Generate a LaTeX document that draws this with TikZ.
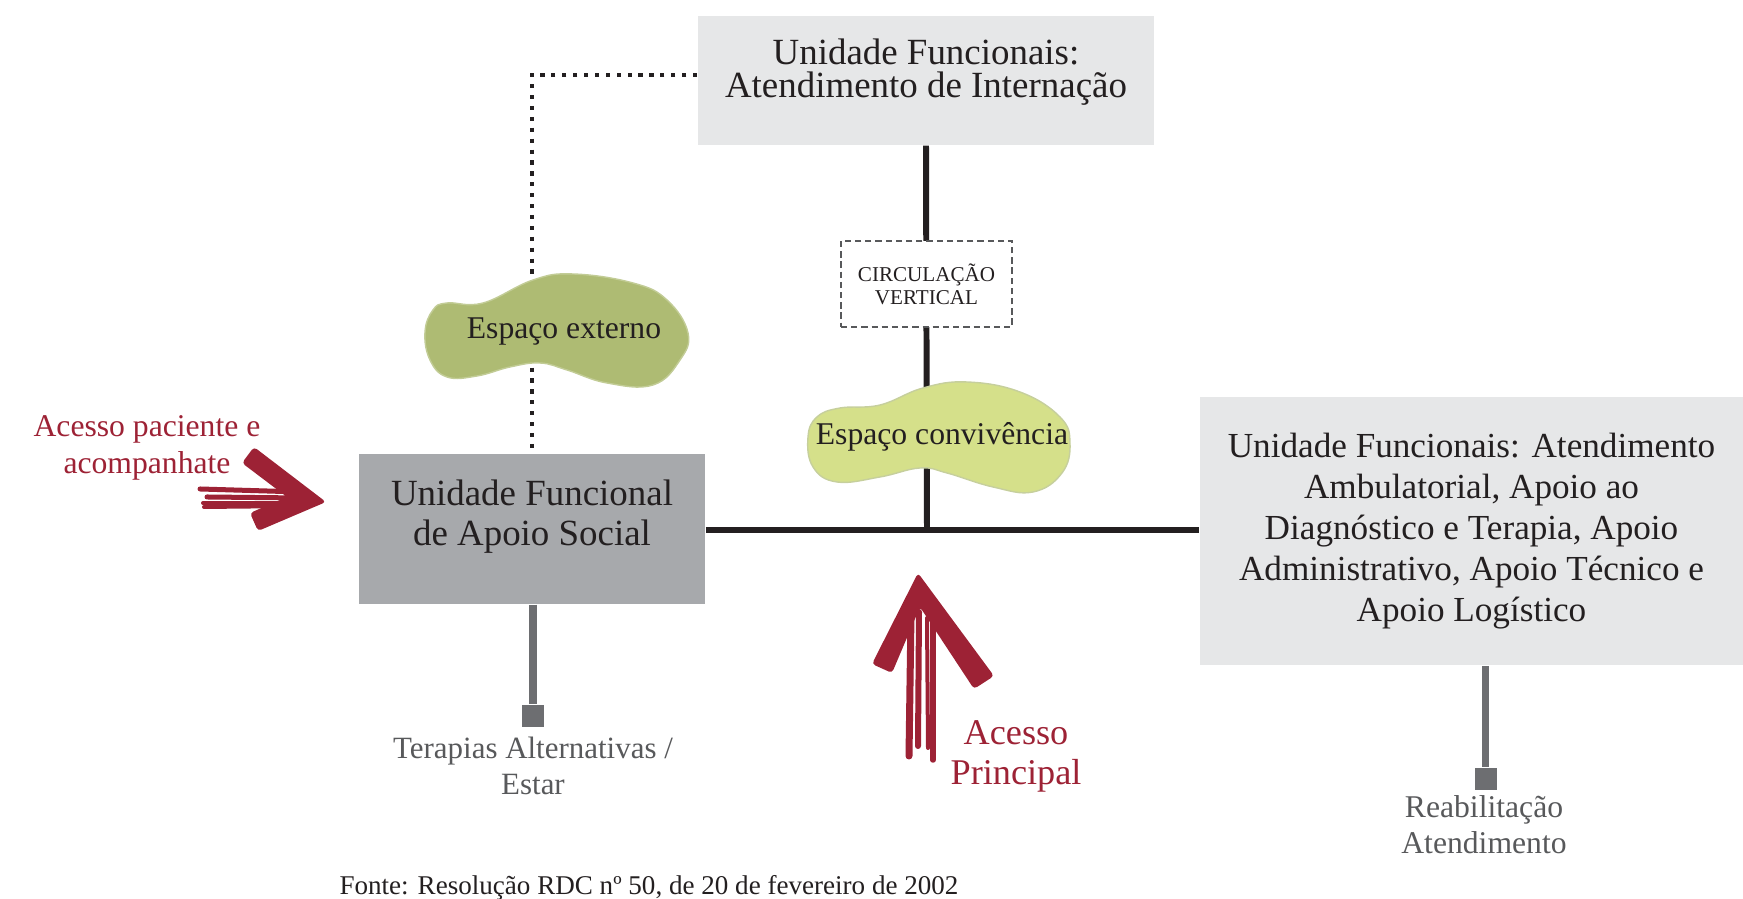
\documentclass[tikz,border=0pt]{standalone}
\usepackage{fontspec}
\setmainfont{Liberation Serif}
\definecolor{ink}{HTML}{231F20}
\definecolor{boxlight}{HTML}{E6E7E8}
\definecolor{boxmid}{HTML}{A7A9AC}
\definecolor{stemgray}{HTML}{6D6E71}
\definecolor{textgray}{HTML}{58595B}
\definecolor{accred}{HTML}{9D2235}
\definecolor{olive}{HTML}{AEBB73}
\definecolor{pale}{HTML}{D5E08A}
\begin{document}
\begin{tikzpicture}[
    unitbox/.style={fill=#1, align=center, inner sep=0pt, text=ink},
    circbox/.style={draw=textgray, dash pattern=on 1.8pt off 1.1pt, line width=0.8pt,
      fill=white, align=center, inner sep=0pt, minimum width=1.71cm, minimum height=0.86cm,
      font=\fontsize{6}{6.5}\selectfont, text=ink},
    blobtext/.style={font=\fontsize{9}{10}\selectfont, text=ink, inner sep=1pt},
    trunk/.style={ink, line width=1.7pt},
    dotline/.style={ink, line width=1.2pt, dash pattern=on 1.2pt off 1.9pt},
    stem/.style={stemgray, line width=2pt},
    endsq/.style={fill=stemgray, minimum size=0.22cm, inner sep=0pt},
    endlabel/.style={align=center, inner sep=0pt, text=textgray},
    acclabel/.style={align=center, inner sep=0pt, text=accred},
    accstroke/.style={accred, line cap=round},
  ]
    \def\x{0.01}
    \def\y{-0.01}
    \useasboundingbox (0,0) rectangle (1743*\x, 899*\y);

    % main units
    \node[unitbox=boxlight, minimum width=4.56cm, minimum height=1.29cm, text depth=0.245cm,
      font=\fontsize{10.5}{9.4}\selectfont] (intern) at (926*\x, 80.5*\y)
      {Unidade Funcionais:\\Atendimento de Internação};
    \node[unitbox=boxmid, minimum width=3.46cm, minimum height=1.50cm, text depth=0.33cm,
      font=\fontsize{10.5}{11.4}\selectfont] (social) at (532*\x, 529*\y)
      {Unidade Funcional\\de Apoio Social};
    \node[unitbox=boxlight, minimum width=5.43cm, minimum height=2.68cm,
      font=\fontsize{10}{11.7}\selectfont] (ambul) at (1471.5*\x, 531*\y)
      {Unidade Funcionais: Atendimento\\Ambulatorial, Apoio ao\\Diagnóstico e Terapia, Apoio\\Administrativo, Apoio Técnico e\\Apoio Logístico};

    % circulation
    \coordinate (junc) at (927*\x, 530*\y);
    \draw[trunk] (intern.south) -- (junc);
    \draw[trunk] (social.east |- junc) -- (ambul.west |- junc);
    \draw[dotline] ([yshift=1.6pt]intern.west) -| (social.north);

    % green spaces
    \fill[olive, draw=olive!75!white, line width=0.4pt] plot[smooth cycle, tension=0.7] coordinates {
      (425*\x,332*\y) (433*\x,310*\y) (447*\x,303*\y) (483*\x,303*\y) (533*\x,280*\y)
      (573*\x,274*\y) (633*\x,283*\y) (667*\x,300*\y) (688*\x,333*\y) (680*\x,360*\y)
      (653*\x,385*\y) (607*\x,383*\y) (567*\x,370*\y) (540*\x,363*\y) (510*\x,367*\y)
      (477*\x,376*\y) (447*\x,377*\y) (430*\x,360*\y)};
    \node[blobtext] (extern) at (564*\x, 332*\y) {Espaço externo};
    \fill[pale, draw=olive!70!white, line width=0.4pt] plot[smooth cycle, tension=0.7] coordinates {
      (808*\x,437*\y) (817*\x,417*\y) (840*\x,408*\y) (880*\x,405*\y) (923*\x,388*\y)
      (967*\x,382*\y) (1020*\x,392*\y) (1060*\x,417*\y) (1070*\x,443*\y) (1062*\x,473*\y)
      (1033*\x,492*\y) (993*\x,487*\y) (947*\x,473*\y) (920*\x,468*\y) (880*\x,477*\y)
      (837*\x,482*\y) (813*\x,467*\y)};
    \node[blobtext] (conviv) at (942*\x, 437*\y) {Espaço convivência};
    \node[circbox] (circ) at (926.5*\x, 284*\y) {CIRCULAÇÃO\\VERTICAL};

    % annexes
    \node[endsq] (sqa) at (533*\x, 716*\y) {};
    \node[endsq] (sqb) at (1485.5*\x, 779*\y) {};
    \draw[stem] (sqa |- social.south) -- (sqa.north);
    \draw[stem] (sqb |- ambul.south) -- (sqb.north);
    \node[endlabel, anchor=north, font=\fontsize{8.8}{10.2}\selectfont] (terap) at (533*\x, 736*\y)
      {Terapias Alternativas /\\Estar};
    \node[endlabel, anchor=north, font=\fontsize{9}{10.2}\selectfont] (reab) at (1484*\x, 795*\y)
      {Reabilitação\\Atendimento};

    % accesses
    \fill[accred, rounded corners=1pt] (254*\x,447*\y) -- (326*\x,502*\y) -- (258*\x,531*\y)
      -- (250*\x,513*\y) -- (287*\x,497*\y) -- (242*\x,463*\y) -- cycle;
    \draw[accstroke, line width=0.05cm] (200*\x,489*\y) -- (300*\x,492*\y);
    \draw[accstroke, line width=0.05cm] (207*\x,497*\y) -- (300*\x,498*\y);
    \draw[accstroke, line width=0.04cm] (203*\x,503*\y) -- (300*\x,503*\y);
    \draw[accstroke, line width=0.04cm] (204*\x,507*\y) -- (300*\x,506*\y);
    \node[acclabel, anchor=north, font=\fontsize{9}{10.5}\selectfont] (accpac) at (147*\x, 415*\y)
      {Acesso paciente e\\acompanhate};

    \fill[accred, rounded corners=1pt] (872*\x,664*\y) -- (918*\x,573*\y) -- (994*\x,676*\y)
      -- (974*\x,689*\y) -- (920*\x,607*\y) -- (892*\x,673*\y) -- cycle;
    \draw[accstroke, line width=0.07cm] (911*\x,615*\y) -- (909*\x,756*\y);
    \draw[accstroke, line width=0.06cm] (919*\x,612*\y) -- (918*\x,746*\y);
    \draw[accstroke, line width=0.04cm] (927*\x,618*\y) -- (928*\x,748*\y);
    \draw[accstroke, line width=0.055cm] (933*\x,622*\y) -- (933*\x,760*\y);
    \node[acclabel, anchor=north, font=\fontsize{10.3}{11.4}\selectfont] (accpri) at (1016*\x, 720*\y)
      {Acesso\\Principal};

    % source
    \node[anchor=base, inner sep=0pt, text=ink, font=\fontsize{7.7}{9}\selectfont] (fonte) at (649*\x, 895*\y)
      {Fonte: Resolução RDC nº 50, de 20 de fevereiro de 2002};
\end{tikzpicture}
\end{document}
